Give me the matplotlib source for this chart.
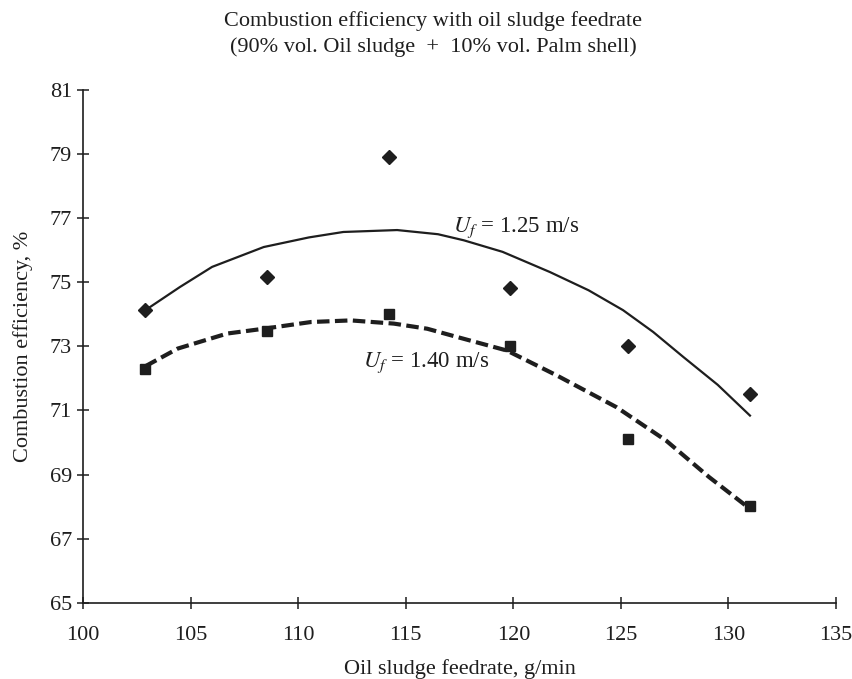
import matplotlib.pyplot as plt
import numpy as np

plt.rcParams['font.family'] = ['Liberation Serif', 'DejaVu Serif']
plt.rcParams['mathtext.fontset'] = 'stix'

# measured points
feed_a = [102.9, 108.55, 114.2, 119.85, 125.35, 131.0]
eff_a = [74.13, 75.17, 78.9, 74.82, 73.01, 71.52]     # Uf = 1.25 m/s
feed_b = [102.9, 108.55, 114.2, 119.85, 125.35, 131.0]
eff_b = [72.3, 73.48, 74.02, 73.01, 70.12, 68.03]     # Uf = 1.40 m/s

# trend lines
trend_a_x = [102.9, 104.5, 106.0, 108.4, 110.5, 112.1, 114.6, 116.5, 117.7, 119.5, 121.7, 123.5, 125.1, 126.5, 127.9, 129.5, 131.0]
trend_a_y = [74.13, 74.85, 75.48, 76.1, 76.4, 76.57, 76.63, 76.5, 76.31, 75.95, 75.32, 74.75, 74.13, 73.45, 72.67, 71.8, 70.84]
trend_b_x = [102.9, 104.4, 106.7, 108.4, 110.6, 112.45, 114.45, 116.0, 117.4, 119.7, 122.0, 124.8, 127.1, 129.1, 131.0]
trend_b_y = [72.38, 72.93, 73.4, 73.55, 73.76, 73.81, 73.71, 73.55, 73.29, 72.87, 72.1, 71.1, 70.06, 68.92, 67.93]

ink = '#1e1e1e'

fig = plt.figure(figsize=(8.53, 6.79), dpi=100)
ax = fig.add_axes([0.0973, 0.1124, 0.8828, 0.755])

ax.plot(trend_a_x, trend_a_y, color=ink, lw=1.6)
ax.plot(trend_b_x, trend_b_y, color=ink, lw=3, dashes=(3, 1.3))
ax.plot(feed_a, eff_a, 'D', color=ink, markersize=6.8, linestyle='none')
ax.plot(feed_b, eff_b, 's', color=ink, markersize=7.8, linestyle='none')

ax.text(117.2, 76.7, '$U_f$ = 1.25 m/s', fontsize=16.5, va='center', ha='left', color=ink)
ax.text(113.0, 72.5, '$U_f$ = 1.40 m/s', fontsize=16.5, va='center', ha='left', color=ink)

ax.set_xlim(100, 135)
ax.set_ylim(65, 81)
ax.set_xticks(np.arange(100, 136, 5))
ax.set_yticks(np.arange(65, 82, 2))
ax.spines['top'].set_visible(False)
ax.spines['right'].set_visible(False)
for s in ['left', 'bottom']:
    ax.spines[s].set_color(ink)
    ax.spines[s].set_linewidth(1.2)
ax.tick_params(direction='inout', length=8, width=1.1, colors=ink, labelsize=16)
ax.tick_params(axis='x', pad=13)
ax.tick_params(axis='y', pad=4)

ax.set_xlabel('Oil sludge feedrate, g/min', fontsize=16, color=ink, labelpad=10)
ax.set_ylabel('Combustion efficiency, %', fontsize=16, color=ink, labelpad=12)
fig.text(0.508, 1 - 21 / 679, 'Combustion efficiency with oil sludge feedrate',
         ha='center', va='center', fontsize=16, color=ink)
fig.text(0.508, 1 - 47 / 679, '(90% vol. Oil sludge  +  10% vol. Palm shell)',
         ha='center', va='center', fontsize=16, color=ink)

fig.savefig('out.png', dpi=100)
